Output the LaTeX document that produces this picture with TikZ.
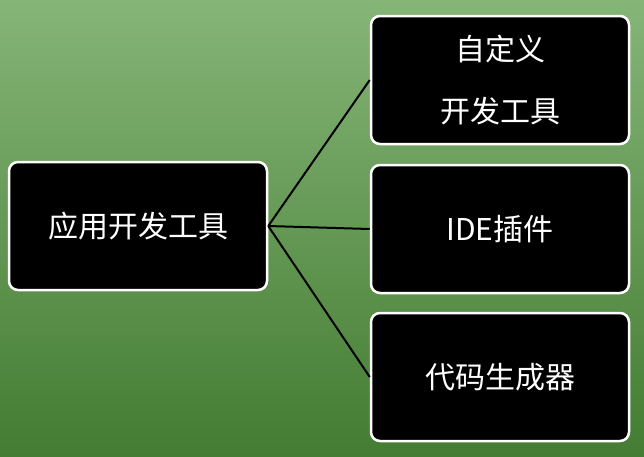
\documentclass[tikz,border=0pt]{standalone}
\usepackage{fontspec}
\newfontfamily\cjk{Noto Sans CJK SC}
\definecolor{bgtop}{HTML}{86B578}
\definecolor{bgbot}{HTML}{437C32}
\begin{document}
\begin{tikzpicture}[x=1pt,y=-1pt,
  box/.style={draw=white,line width=2.5pt,fill=black,rounded corners=9pt,minimum width=258pt,minimum height=128pt,text=white,font=\cjk\fontsize{30}{62}\selectfont,align=center},
  conn/.style={black,line width=2pt}]
\useasboundingbox (0,0) rectangle (644,456);
\shade[top color=bgtop,bottom color=bgbot] (0,0) rectangle (644,456);
\node[box] (root) at (138,226) {应用开发工具};
\node[box] (a) at (500,80) {自定义\\开发工具};
\node[box] (b) at (500,229) {IDE插件};
\node[box] (c) at (500,377) {代码生成器};
\draw[conn] (root.east) -- (a.west);
\draw[conn] (root.east) -- (b.west);
\draw[conn] (root.east) -- (c.west);
\end{tikzpicture}
\end{document}
